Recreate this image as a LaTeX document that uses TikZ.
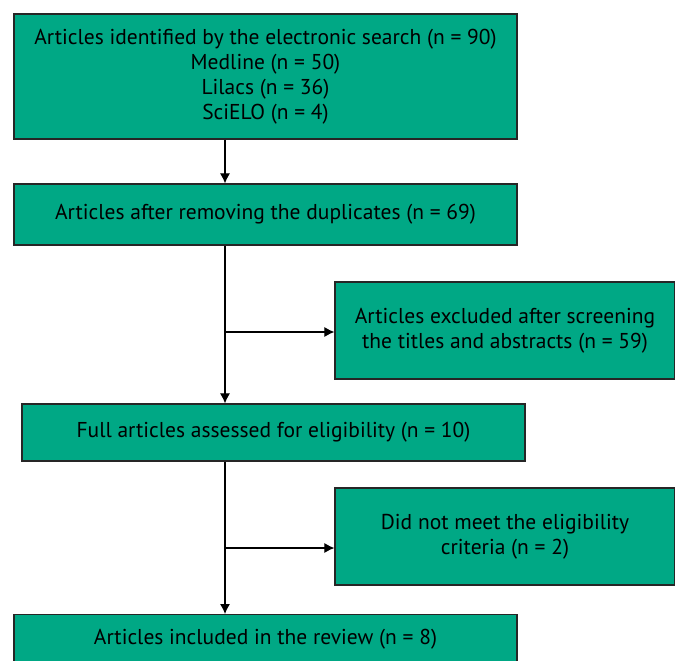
\documentclass[tikz,border=0pt]{standalone}
\usepackage{fontspec}
\setmainfont{PT Sans}
\usetikzlibrary{arrows.meta,calc}
\definecolor{boxgreen}{RGB}{0,168,133}
\tikzset{
  flowbox/.style={draw=black!85, line width=1.2pt, fill=boxgreen, align=center, inner sep=0pt,
    font=\fontsize{21.5}{25}\selectfont},
  flowarrow/.style={line width=1.1pt, -{Latex[length=10pt,width=10pt]}},
}
\begin{document}
\begin{tikzpicture}[x=1pt,y=-1pt]
\useasboundingbox (0,0) rectangle (675,661);
% boxes
\node[flowbox, minimum width=503pt, minimum height=125pt] (search) at (265.5,76.5)
  {Articles identified by the electronic search (n = 90)\\Medline (n = 50)\\Lilacs (n = 36)\\SciELO (n = 4)};
\node[flowbox, minimum width=503pt, minimum height=61pt] (dupl) at (265.5,214.5)
  {Articles after removing the duplicates (n = 69)};
\node[flowbox, minimum width=340pt, minimum height=97pt] (excl) at (505,330.5)
  {Articles excluded after screening\\the titles and abstracts (n = 59)};
\node[flowbox, minimum width=503pt, minimum height=57pt] (full) at (273.5,432.5)
  {Full articles assessed for eligibility (n = 10)};
\node[flowbox, minimum width=340pt, minimum height=97pt] (crit) at (505,536.5)
  {Did not meet the eligibility\\criteria (n = 2)};
\node[flowbox, minimum width=503pt, minimum height=60pt, anchor=north] (incl) at (265.5,614)
  {\raisebox{16pt}{Articles included in the review (n = 8)}};
% connectors
\coordinate (trunk) at (225,0);
\coordinate (fork1) at (225,332);
\coordinate (fork2) at (225,548);
\draw[flowarrow] (search.south -| trunk) -- (dupl.north -| trunk);
\draw[flowarrow] (dupl.south -| trunk) -- (full.north -| trunk);
\draw[flowarrow] (fork1) -- (fork1 -| excl.west);
\draw[flowarrow] (full.south -| trunk) -- (incl.north -| trunk);
\draw[flowarrow] (fork2) -- (fork2 -| crit.west);
\end{tikzpicture}
\end{document}
